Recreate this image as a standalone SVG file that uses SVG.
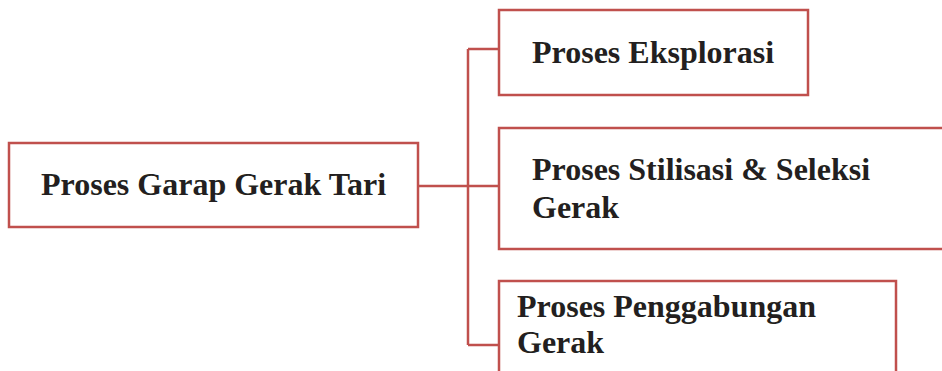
<svg xmlns="http://www.w3.org/2000/svg" width="942" height="371" viewBox="0 0 942 371">
<style>
.box{fill:#ffffff;stroke:#c0504d;stroke-width:2.5}
.lbl{font-family:"Liberation Serif","Times New Roman",serif;font-weight:bold;font-size:32px;fill:#231f20}
.conn{fill:none;stroke:#c0504d;stroke-width:2.5}
</style>
<rect width="942" height="371" fill="#ffffff"/>
<g id="connectors">
<path class="conn" d="M418,186 H468 M468,49 V345 M468,49 H499 M468,186 H499 M468,345 H499"/>
</g>
<g id="root">
<rect class="box" x="9" y="143" width="409" height="84"/>
<text class="lbl" x="41" y="195">Proses Garap Gerak Tari</text>
</g>
<g id="eksplorasi">
<rect class="box" x="499" y="10" width="309" height="85"/>
<text class="lbl" x="532" y="63">Proses Eksplorasi</text>
</g>
<g id="stilisasi">
<rect class="box" x="499" y="128" width="460" height="121"/>
<text class="lbl" x="532" y="180">Proses Stilisasi &amp; Seleksi</text>
<text class="lbl" x="532" y="218">Gerak</text>
</g>
<g id="penggabungan">
<rect class="box" x="499" y="281" width="397" height="110"/>
<text class="lbl" x="517" y="317">Proses Penggabungan</text>
<text class="lbl" x="517" y="353">Gerak</text>
</g>
</svg>
